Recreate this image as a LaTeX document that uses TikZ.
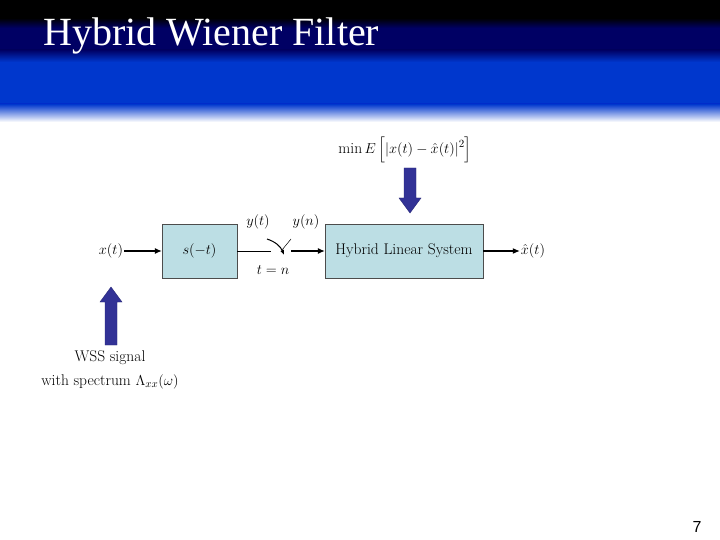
\documentclass[tikz,border=0pt]{standalone}
\usepackage{amsmath}
\usepackage{fontspec}
\usetikzlibrary{arrows.meta}
\newfontfamily\titlefont{Liberation Serif}
\newfontfamily\numfont{Liberation Sans}
\definecolor{hblue}{RGB}{0,55,205}
\definecolor{navy}{RGB}{0,0,100}
\definecolor{boxfill}{RGB}{188,222,228}
\definecolor{arrowblue}{RGB}{50,50,150}
\begin{document}
\begin{tikzpicture}[x=1pt,y=-1pt,
  lab/.style={font=\fontsize{15.5}{18}\selectfont,inner sep=1pt},
  blk/.style={lab,draw=black!70,fill=boxfill,minimum height=54pt,inner sep=0pt},
  sig/.style={-{Latex[length=7pt,width=6pt]},line width=1.1pt},
  fat/.style={fill=arrowblue,draw=arrowblue!80!black}]
\useasboundingbox (0,0) rectangle (720,540);
\fill[white] (0,0) rectangle (720,540);
\fill[black] (0,0) rectangle (720,18);
\shade[top color=black,bottom color=navy] (0,18) rectangle (720,28);
\fill[navy] (0,28) rectangle (720,50);
\shade[top color=navy,bottom color=hblue] (0,50) rectangle (720,62);
\fill[hblue] (0,62) rectangle (720,104);
\shade[top color=hblue,bottom color=white] (0,104) rectangle (720,122);
\node[text=white,anchor=west,font=\titlefont\fontsize{40}{42}\selectfont,inner sep=0pt] (title) at (43,36) {Hybrid Wiener Filter};
\node[blk,minimum width=75pt] (s) at (199.5,251) {$s(-t)$};
\node[blk,minimum width=158pt] (h) at (404,251) {Hybrid Linear System};
\node[lab] (x) at (111,251) {$x(t)$};
\node[lab] (xh) at (533,251) {$\hat{x}(t)$};
\coordinate (sw1) at (271,251);
\coordinate (sw2) at (291,251);
\draw[sig] (x) -- (s);
\draw[line width=0.6pt] (s) -- (sw1);
\draw[-{Latex[length=5pt,width=4pt]},line width=1pt] (267,239) to[bend left=25] (284,255);
\draw[line width=0.5pt] (282,250) -- (291,239);
\draw[sig] (sw2) -- (h);
\draw[sig] (h) -- (xh);
\node[lab] (yt) at (258,222) {$y(t)$};
\node[lab] (yn) at (306,222) {$y(n)$};
\node[lab] (tn) at (273,270) {$t=n$};
\node[lab] (mse) at (405,150) {$\min E\left[\left|x(t)-\hat{x}(t)\right|^2\right]$};
\draw[fat] (404,168) -- (416,168) -- (416,198) -- (421,198) -- (410,213) -- (399,198) -- (404,198) -- cycle;
\draw[fat] (105,345) -- (117,345) -- (117,302) -- (122,302) -- (111,287) -- (100,302) -- (105,302) -- cycle;
\node[lab] (w1) at (110,358) {WSS signal};
\node[lab] (w2) at (110,382) {with spectrum $\Lambda_{xx}(\omega)$};
\node[font=\numfont\fontsize{16}{18}\selectfont] (p) at (697,527) {7};
\end{tikzpicture}
\end{document}
